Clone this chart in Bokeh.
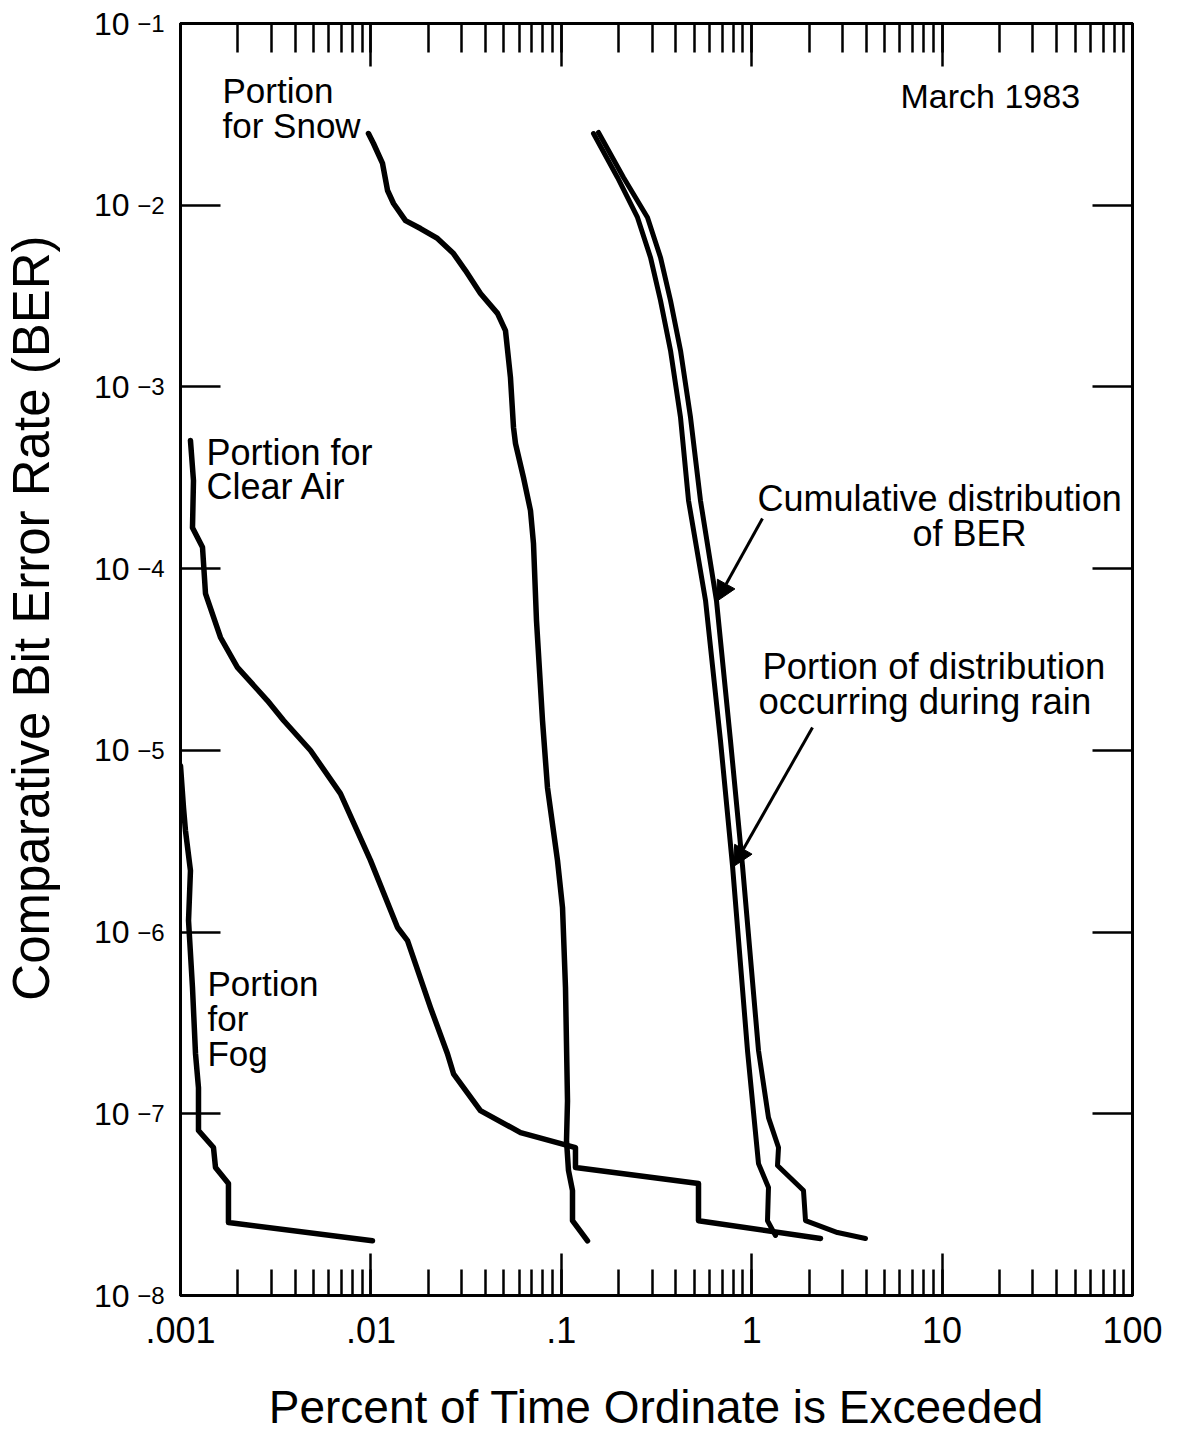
from bokeh.plotting import figure
from bokeh.models import (Range1d, LogAxis, LogTicker, CustomJSTickFormatter,
                          Label, Arrow, NormalHead, Title)
from bokeh.embed import file_html
from bokeh.resources import INLINE

# ---------------- data ----------------
fog_x = [0.001, 1.037e-3, 1.062e-3, 1.128e-3, 1.102e-3, 1.156e-3, 1.199e-3,
         1.243e-3, 1.243e-3, 1.49e-3, 1.527e-3, 1.786e-3, 1.786e-3, 0.01019]
fog_y = [8.24e-6, 4.84e-6, 3.62e-6, 2.18e-6, 1.156e-6, 4.95e-7, 2.14e-7,
         1.39e-7, 8.09e-8, 6.52e-8, 5.06e-8, 4.13e-8, 2.52e-8, 2.0e-8]

clear_x = [1.128e-3, 1.17e-3, 1.156e-3, 1.305e-3, 1.353e-3, 1.622e-3, 1.99e-3,
           2.86e-3, 3.48e-3, 4.82e-3, 6.92e-3, 9.95e-3, 0.0138, 0.01557,
           0.02056, 0.02524, 0.02716, 0.0376, 0.0611, 0.1187, 0.1187,
           0.5255, 0.5255, 2.298]
clear_y = [5.07e-4, 3.05e-4, 1.68e-4, 1.31e-4, 7.29e-5, 4.18e-5, 2.86e-5,
           1.88e-5, 1.46e-5, 9.98e-6, 5.78e-6, 2.48e-6, 1.06e-6, 8.98e-7,
           3.84e-7, 2.14e-7, 1.66e-7, 1.04e-7, 7.88e-8, 6.52e-8, 5.06e-8,
           4.13e-8, 2.58e-8, 2.06e-8]

snow_x = [0.00971, 0.01032, 0.01151, 0.01223, 0.01315, 0.01520, 0.01822,
          0.02237, 0.02716, 0.03139, 0.03763, 0.04623, 0.05092, 0.05408,
          0.05610, 0.05748, 0.06331, 0.06889, 0.07145, 0.07408, 0.07967,
          0.08461, 0.09550, 0.1015, 0.1052, 0.1078, 0.1065, 0.1091, 0.1145,
          0.1145, 0.1373]
snow_y = [0.02481, 0.02186, 0.01697, 0.01205, 0.01022, 0.00823, 0.00744,
          0.00656, 0.00542, 0.00437, 0.00327, 0.00254, 0.00204, 0.001126,
          5.98e-4, 4.88e-4, 3.17e-4, 2.09e-4, 1.37e-4, 5.18e-5, 1.46e-5,
          6.24e-6, 2.48e-6, 1.36e-6, 4.95e-7, 1.18e-7, 7.12e-8, 4.87e-8,
          3.78e-8, 2.58e-8, 2.0e-8]

rain_x = [0.1476, 0.1973, 0.2513, 0.2941, 0.3319, 0.3746, 0.4228, 0.4658,
          0.5722, 0.6857, 0.7929, 0.9504, 1.0857, 1.2252, 1.2106, 1.3335]
rain_y = [0.02481, 0.01421, 0.00856, 0.00516, 0.00299, 0.001587, 6.79e-4,
          2.37e-4, 6.67e-5, 1.13e-5, 2.32e-6, 2.23e-7, 5.32e-8, 3.93e-8,
          2.58e-8, 2.14e-8]

cum_x = [0.1568, 0.2122, 0.2836, 0.3319, 0.3746, 0.4228, 0.4772, 0.5383,
         0.6531, 0.7738, 0.8947, 1.0857, 1.2252, 1.383, 1.366, 1.871, 1.917,
         2.822, 3.96]
cum_y = [0.02513, 0.01421, 0.00856, 0.00516, 0.00299, 0.001587, 6.79e-4,
         2.37e-4, 6.67e-5, 1.13e-5, 2.32e-6, 2.23e-7, 9.53e-8, 6.52e-8,
         5.19e-8, 3.78e-8, 2.58e-8, 2.22e-8, 2.06e-8]

x_tick_labels = [".001", ".01", ".1", "1", "10", "100"]
y_tick_base = "10"
y_tick_exponents = ["\u22128", "\u22127", "\u22126", "\u22125",
                    "\u22124", "\u22123", "\u22122", "\u22121"]

x_title = "Percent of Time Ordinate is Exceeded"
y_title = "Comparative Bit Error Rate (BER)"

# annotation texts (each line) with anchor positions in data units
notes = [
    ("Portion", 1.662e-3, 0.04277),
    ("for Snow", 1.662e-3, 0.02746),
    ("March 1983", 6.046, 0.04015),
    ("Portion for", 1.369e-3, 4.354e-4),
    ("Clear Air", 1.369e-3, 2.829e-4),
    ("Cumulative distribution", 1.073, 2.431e-4),
    ("of BER", 6.99, 1.560e-4),
    ("Portion of distribution", 1.139, 2.892e-5),
    ("occurring during rain", 1.0857, 1.856e-5),
    ("Portion", 1.386e-3, 5.204e-7),
    ("for", 1.386e-3, 3.341e-7),
    ("Fog", 1.386e-3, 2.142e-7),
]
note_sizes = ["35px", "35px", "34px", "36px", "36px", "36px", "36px",
              "36.5px", "36.5px", "35px", "35px", "35px"]
arrows = [
    (1.139, 1.887e-4, 0.6531, 6.59e-5),
    (2.086, 1.335e-5, 0.8023, 2.293e-6),
]

FONT = "Liberation Sans"

# ---------------- figure ----------------
p = figure(x_axis_type="log", y_axis_type="log",
           x_range=Range1d(1e-3, 1e2), y_range=Range1d(1e-8, 1e-1),
           frame_width=952, frame_height=1272,
           min_border_left=180, min_border_top=23,
           min_border_right=35, min_border_bottom=123,
           output_backend="svg", toolbar_location=None,
           background_fill_color="white", border_fill_color="white")
p.grid.visible = False
p.outline_line_color = "black"
p.outline_line_width = 3

fmt_x = CustomJSTickFormatter(args=dict(labels=x_tick_labels, first=-3), code="""
const e = Math.round(Math.log10(tick));
const i = e - first;
return (i >= 0 && i < labels.length) ? labels[i] : "";
""")
fmt_exp = CustomJSTickFormatter(args=dict(labels=y_tick_exponents, first=-8), code="""
const e = Math.round(Math.log10(tick));
const i = e - first;
return (i >= 0 && i < labels.length) ? labels[i] : "";
""")
fmt_base = CustomJSTickFormatter(args=dict(base=y_tick_base), code="return base;")
blank = CustomJSTickFormatter(code="return '';")
spacer_fmt = CustomJSTickFormatter(code="return '\\u00a0';")

xa = p.xaxis[0]
xa.formatter = fmt_x
xa.ticker = LogTicker(num_minor_ticks=10)
xa.major_tick_in = 42
xa.major_tick_out = 0
xa.minor_tick_in = 26
xa.minor_tick_out = 0

# inner left axis: ticks + superscript exponents
ya = p.yaxis[0]
ya.formatter = fmt_exp
ya.major_tick_in = 40
ya.major_tick_out = 0
ya.minor_tick_in = 0
ya.minor_tick_out = 0

# outer left axis: the "10" bases
yb = LogAxis(ticker=LogTicker(num_minor_ticks=10), formatter=fmt_base,
             major_tick_in=0, major_tick_out=0, minor_tick_in=0, minor_tick_out=0,
             axis_line_color=None, major_tick_line_color=None,
             minor_tick_line_color=None, major_label_standoff=5)
p.add_layout(yb, "left")

# spacer between the tick labels and the y title
yc = LogAxis(ticker=LogTicker(num_minor_ticks=10), formatter=spacer_fmt,
             major_tick_in=0, major_tick_out=0, minor_tick_in=0, minor_tick_out=0,
             axis_line_color=None, major_tick_line_color=None,
             minor_tick_line_color=None, major_label_standoff=25,
             major_label_text_font_size="10px")
p.add_layout(yc, "left")

top = LogAxis(ticker=LogTicker(num_minor_ticks=10), formatter=blank,
              major_tick_in=43, major_tick_out=0, minor_tick_in=29, minor_tick_out=0,
              major_label_standoff=0)
right = LogAxis(ticker=LogTicker(num_minor_ticks=10), formatter=blank,
                major_tick_in=40, major_tick_out=0, minor_tick_in=0, minor_tick_out=0,
                major_label_standoff=0)
p.add_layout(top, "above")
p.add_layout(right, "right")

for ax in (xa, ya, top, right):
    ax.axis_line_color = "black"
    ax.axis_line_width = 3
    ax.major_tick_line_color = "black"
    ax.major_tick_line_width = 2.5
    ax.minor_tick_line_color = "black"
    ax.minor_tick_line_width = 2.5
for ax in (xa, ya, yb, yc, top, right):
    ax.major_label_text_font = FONT
    ax.major_label_text_color = "black"
    ax.axis_label_text_font = FONT
    ax.axis_label_text_font_style = "normal"
    ax.axis_label_text_color = "black"

xa.major_label_text_font_size = "36px"
xa.major_label_standoff = 21
ya.major_label_text_font_size = "24px"
ya.major_label_standoff = 16
yb.major_label_text_font_size = "32px"

xa.axis_label = x_title
xa.axis_label_text_font_size = "46px"
xa.axis_label_standoff = 35

# y title placed in the left panel, shifted toward the top like the original
p.add_layout(Title(text=y_title, align="right", offset=212, standoff=0,
                   text_font=FONT, text_font_size="51px", text_font_style="normal",
                   text_color="black"), "left")

# ---------------- curves ----------------
LW = 5.5
p.line(fog_x, fog_y, line_color="black", line_width=LW, line_join="round", line_cap="round")
p.line(clear_x, clear_y, line_color="black", line_width=LW, line_join="round", line_cap="round")
p.line(snow_x, snow_y, line_color="black", line_width=LW, line_join="round", line_cap="round")
p.line(rain_x, rain_y, line_color="black", line_width=5, line_join="round", line_cap="round")
p.line(cum_x, cum_y, line_color="black", line_width=5, line_join="round", line_cap="round")

# ---------------- annotations ----------------
for (txt, xx, yy), fs in zip(notes, note_sizes):
    p.add_layout(Label(x=xx, y=yy, text=txt, text_font=FONT, text_font_size=fs,
                       text_color="black", text_align="left", text_baseline="alphabetic"))

for x0, y0, x1, y1 in arrows:
    p.add_layout(Arrow(x_start=x0, y_start=y0, x_end=x1, y_end=y1,
                       line_color="black", line_width=3,
                       end=NormalHead(size=20, fill_color="black", line_color="black")))

open("out.html", "w").write(file_html(p, INLINE))
